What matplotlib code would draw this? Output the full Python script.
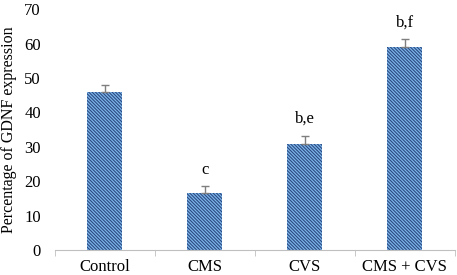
import matplotlib
matplotlib.use('Agg')
import matplotlib.pyplot as plt
import numpy as np

# ── Data ───────────────────────────────────────────────────────────────────────
groups = ['Control', 'CMS', 'CVS', 'CMS + CVS']
values = [46.0, 16.7, 30.7, 59.0]
errors = [2.0, 1.9, 2.6, 2.2]
letters = ['', 'c', 'b,e', 'b,f']

plt.rcParams['font.family'] = ['Liberation Serif', 'DejaVu Serif']
plt.rcParams['hatch.color'] = '#2a4a80'
plt.rcParams['hatch.linewidth'] = 0.8

fig = plt.figure(figsize=(4.57, 2.75), dpi=100)
ax = fig.add_axes([0.12, 0.09, 0.875, 0.877])

x = np.arange(len(groups))
ax.bar(x, values, width=0.35, color='#7db4ea', edgecolor='#2a4a80',
       hatch='\\' * 10, linewidth=0)
ax.errorbar(x, values, yerr=[np.zeros(len(errors)), errors], fmt='none',
            ecolor='#7f7f7f', elinewidth=1, capsize=3, capthick=1)

for xi, v, e, t in zip(x, values, errors, letters):
    if t:
        ax.text(xi, v + e + 2.5, t, ha='center', va='bottom', fontsize=12)

ax.set_xlim(-0.5, len(groups) - 0.5)
ax.set_ylim(0, 70)
ax.set_yticks(range(0, 71, 10))
ax.set_xticks(x)
ax.set_xticklabels(groups, fontsize=12)
ax.set_xticks(np.arange(-0.5, len(groups), 1.0), minor=True)
ax.tick_params(axis='x', which='major', length=0, pad=6)
ax.tick_params(axis='x', which='minor', length=4, color='#bfbfbf')
ax.tick_params(axis='y', length=0, labelsize=12, pad=10)
ax.set_ylabel('Percentage of GDNF expression', fontsize=11.5, labelpad=5)

for s in ['top', 'right', 'left']:
    ax.spines[s].set_visible(False)
ax.spines['bottom'].set_color('#bfbfbf')

fig.savefig('out.png', dpi=100)
